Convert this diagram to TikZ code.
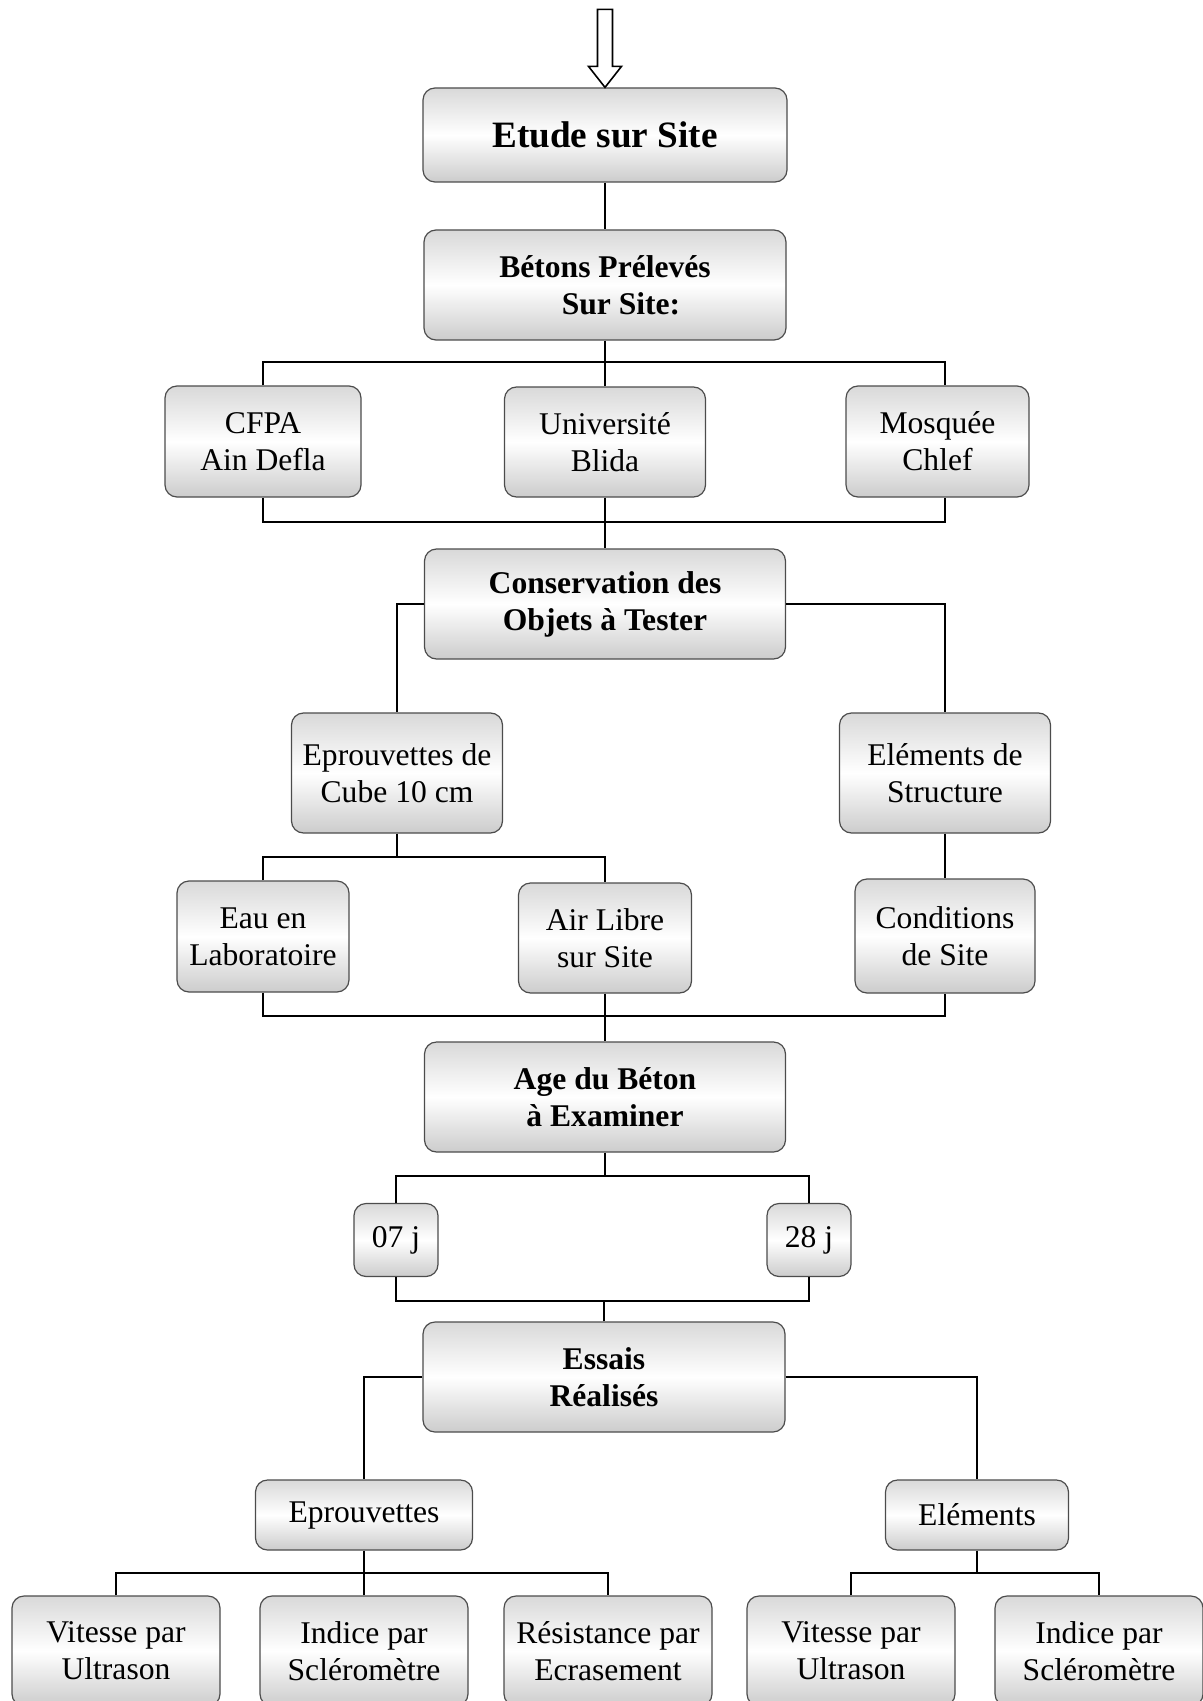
\documentclass[tikz,border=0pt]{standalone}
\usepackage{fontspec}
\setmainfont{Liberation Serif}
\usetikzlibrary{positioning,calc}

\begin{document}
\begin{tikzpicture}[x=0.5pt,y=-0.5pt,
  boite/.style={draw=gray!60!black, line width=0.6pt, rounded corners=6pt,
    top color=gray!30, bottom color=gray!40, middle color=white,
    align=center, inner sep=0pt, font=\fontsize{15.8}{18.5}\selectfont},
  titre/.style={boite, font=\bfseries\fontsize{15.8}{18.5}\selectfont},
  lien/.style={line width=1.1pt}]
\clip (0,0) rectangle (1203,1701);

\node[titre, minimum width=182pt, minimum height=47pt, font=\bfseries\fontsize{18.6}{22}\selectfont] (etude) at (605,135) {Etude sur Site};
% fleche d'entree
\draw[line width=0.8pt, fill=white] (etude.north) -- ++(-16.5,-21) -- ++(9,0) -- ++(0,-57) -- ++(15,0) -- ++(0,57) -- ++(9,0) -- cycle;

\node[titre, minimum width=181pt, minimum height=55pt] (betons) at (605,285) {Bétons Prélevés\\\hspace*{16pt}Sur Site:};
\node[boite, minimum width=98pt, minimum height=55.5pt] (cfpa) at (263,441.5) {CFPA\\Ain Defla};
\node[boite, minimum width=100.5pt, minimum height=55pt] (univ) at (605,442) {Université\\Blida};
\node[boite, minimum width=91.5pt, minimum height=55.5pt] (mosquee) at (937.5,441.5) {Mosquée\\Chlef};
\node[titre, minimum width=180.5pt, minimum height=55pt] (conserv) at (605,604) {Conservation des\\Objets à Tester};
\node[boite, minimum width=105.5pt, minimum height=60pt] (cube) at (397,773) {Eprouvettes de\\Cube 10 cm};
\node[boite, minimum width=105.5pt, minimum height=60pt] (structure) at (945,773) {Eléments de\\Structure};
\node[boite, minimum width=86pt, minimum height=55.5pt] (eau) at (263,936.5) {Eau en\\Laboratoire};
\node[boite, minimum width=86.5pt, minimum height=55pt] (air) at (605,938) {Air Libre\\sur Site};
\node[boite, minimum width=90pt, minimum height=57pt] (cond) at (945,936) {Conditions\\de Site};
\node[titre, minimum width=180.5pt, minimum height=55pt] (age) at (605,1097) {Age du Béton\\à Examiner};
\node[boite, minimum width=42pt, minimum height=36.5pt] (j07) at (396,1240) {07 j};
\node[boite, minimum width=42pt, minimum height=36.5pt] (j28) at (809,1240) {28 j};
\node[titre, minimum width=181pt, minimum height=55pt] (essais) at (604,1377) {Essais\\Réalisés};
\node[boite, minimum width=108.5pt, minimum height=35pt] (epr) at (364,1515) {Eprouvettes};
\node[boite, minimum width=91.5pt, minimum height=35pt] (elem) at (977,1515) {Eléments};
\node[boite, minimum width=104pt, minimum height=55pt] (us1) at (116,1651) {Vitesse par\\Ultrason};
\node[boite, minimum width=104pt, minimum height=55pt] (sc1) at (364,1651) {Indice par\\Scléromètre};
\node[boite, minimum width=104pt, minimum height=55pt] (ec1) at (608,1651) {Résistance par\\Ecrasement};
\node[boite, minimum width=104pt, minimum height=55pt] (us2) at (851,1651) {Vitesse par\\Ultrason};
\node[boite, minimum width=104pt, minimum height=55pt] (sc2) at (1099,1651) {Indice par\\Scléromètre};

% liaisons
\coordinate (a1) at (263,362); \coordinate (a2) at (945,362);
\coordinate (a3) at (263,522); \coordinate (a4) at (945,522);
\draw[lien] (etude.south) -- (betons.north);
\draw[lien] (betons.south) -- (betons.south |- a1);
\draw[lien] (cfpa.north) -- (a1) -- (a2) -- (mosquee.north -| a2);
\draw[lien] (univ.north) -- (univ.north |- a1);
\draw[lien] (cfpa.south) -- (a3) -- (a4) -- (mosquee.south -| a4);
\draw[lien] (univ.south) -- (conserv.north);
\draw[lien] (conserv.west) -| (cube.north);
\draw[lien] (conserv.east) -| (structure.north);

\coordinate (b1) at (263,857); \coordinate (b2) at (605,857);
\coordinate (c1) at (263,1016); \coordinate (c2) at (945,1016);
\draw[lien] (cube.south) -- (cube.south |- b1);
\draw[lien] (eau.north) -- (b1) -- (b2) -- (air.north);
\draw[lien] (structure.south) -- (cond.north);
\draw[lien] (eau.south) -- (c1) -- (c2) -- (cond.south);
\draw[lien] (air.south) -- (age.north);

\coordinate (d1) at (396,1176); \coordinate (d2) at (809,1176);
\coordinate (e1) at (396,1301); \coordinate (e2) at (809,1301);
\draw[lien] (age.south) -- (age.south |- d1);
\draw[lien] (j07.north) -- (d1) -- (d2) -- (j28.north);
\draw[lien] (j07.south) -- (e1) -- (e2) -- (j28.south);
\draw[lien] (essais.north) -- (essais.north |- e1);
\draw[lien] (essais.west) -| (epr.north);
\draw[lien] (essais.east) -| (elem.north);

\coordinate (f1) at (116,1573); \coordinate (f2) at (608,1573);
\coordinate (g1) at (851,1573); \coordinate (g2) at (1099,1573);
\draw[lien] (epr.south) -- (epr.south |- f1);
\draw[lien] (us1.north) -- (f1) -- (f2) -- (ec1.north);
\draw[lien] (sc1.north) -- (sc1.north |- f1);
\draw[lien] (elem.south) -- (elem.south |- g1);
\draw[lien] (us2.north) -- (g1) -- (g2) -- (sc2.north);
\end{tikzpicture}
\end{document}
